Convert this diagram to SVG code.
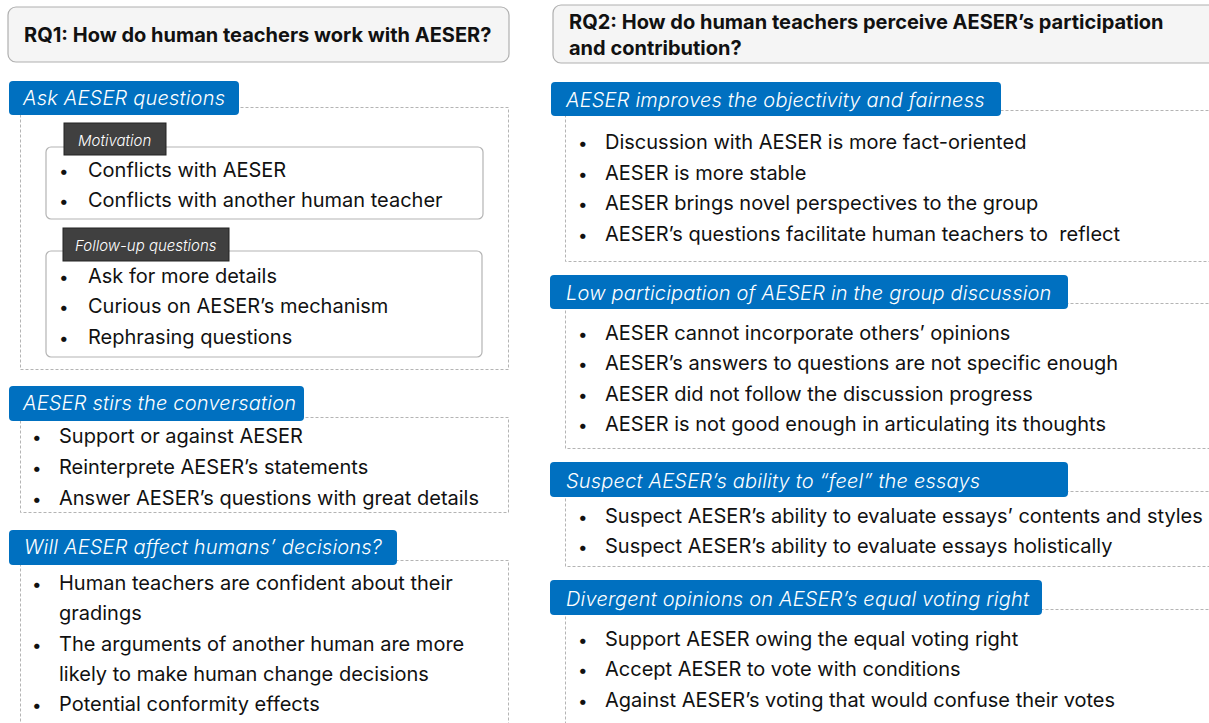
<svg xmlns="http://www.w3.org/2000/svg" width="1209" height="723" viewBox="0 0 1209 723">
<style>
.bg{fill:#ffffff}
.rq{fill:#f5f5f5;stroke:#b0b0b0;stroke-width:1.2}
.rqt{font-family:Inter,"Liberation Sans",sans-serif;font-weight:700;font-size:20px;fill:#111}
.dash{fill:none;stroke:#b4b4b4;stroke-width:1;stroke-dasharray:3 2}
.tab{fill:#0070c0}
.tabt{font-family:Inter,"Liberation Sans",sans-serif;font-style:italic;font-weight:300;font-size:20px;letter-spacing:0.2px;fill:#ffffff}
.dtab{fill:#404040;stroke:#222;stroke-width:1}
.dtabt{font-family:Inter,"Liberation Sans",sans-serif;font-style:italic;font-weight:300;font-size:15px;fill:#ffffff}
.inner{fill:#fff;stroke:#b4b4b4;stroke-width:1.2}
.b{font-family:Inter,"Liberation Sans",sans-serif;font-size:20px;fill:#111}
.d{font-family:Inter,"Liberation Sans",sans-serif;font-size:17px;fill:#111}
</style>
<rect class="bg" x="0" y="0" width="1209" height="723"/>
<g id="connectors"></g>

<g id="rq1">
<rect class="rq" x="8" y="7" width="501" height="55" rx="8"/>
<text class="rqt" x="24" y="42">RQ1: How do human teachers work with AESER?</text>
</g>

<g id="ask">
<rect class="dash" x="20.5" y="107.5" width="488" height="262"/>
<rect class="tab" x="9" y="81" width="230" height="34" rx="4"/>
<text class="tabt" x="23" y="105">Ask AESER questions</text>
</g>

<g id="motivation">
<rect class="inner" x="46" y="147" width="437" height="72" rx="5"/>
<rect class="dtab" x="64" y="123" width="102" height="32"/>
<text class="dtabt" x="78" y="146">Motivation</text>
<text class="d" x="59" y="177">•</text><text class="b" x="88" y="177">Conflicts with AESER</text>
<text class="d" x="59" y="207">•</text><text class="b" x="88" y="207">Conflicts with another human teacher</text>
</g>

<g id="followup">
<rect class="inner" x="46" y="251" width="436" height="106" rx="5"/>
<rect class="dtab" x="63" y="228" width="166" height="33"/>
<text class="dtabt" x="75" y="251">Follow-up questions</text>
<text class="d" x="59" y="283">•</text><text class="b" x="88" y="283">Ask for more details</text>
<text class="d" x="59" y="313">•</text><text class="b" x="88" y="313">Curious on AESER’s mechanism</text>
<text class="d" x="59" y="344">•</text><text class="b" x="88" y="344">Rephrasing questions</text>
</g>

<g id="stirs">
<rect class="dash" x="20.5" y="417.5" width="488" height="95"/>
<rect class="tab" x="9" y="386" width="295" height="35" rx="4"/>
<text class="tabt" x="23" y="410">AESER stirs the conversation</text>
<text class="d" x="32" y="443">•</text><text class="b" x="59" y="443">Support or against AESER</text>
<text class="d" x="32" y="474">•</text><text class="b" x="59" y="474">Reinterprete AESER’s statements</text>
<text class="d" x="32" y="505">•</text><text class="b" x="59" y="505">Answer AESER’s questions with great details</text>
</g>

<g id="affect">
<rect class="dash" x="20.5" y="560.5" width="488" height="180"/>
<rect class="tab" x="9" y="530" width="388" height="35" rx="4"/>
<text class="tabt" x="24" y="554">Will AESER affect humans’ decisions?</text>
<text class="d" x="32" y="590">•</text><text class="b" x="59" y="590">Human teachers are confident about their</text>
<text class="b" x="59" y="620">gradings</text>
<text class="d" x="32" y="651">•</text><text class="b" x="59" y="651">The arguments of another human are more</text>
<text class="b" x="59" y="681">likely to make human change decisions</text>
<text class="d" x="32" y="711">•</text><text class="b" x="59" y="711">Potential conformity effects</text>
</g>

<g id="rq2">
<rect class="rq" x="553" y="5" width="680" height="58" rx="8"/>
<text class="rqt" x="569" y="29">RQ2: How do human teachers perceive AESER’s participation</text>
<text class="rqt" x="569" y="55">and contribution?</text>
</g>

<g id="objectivity">
<rect class="dash" x="565.5" y="110.5" width="680" height="151"/>
<rect class="tab" x="551" y="82" width="450" height="34" rx="4"/>
<text class="tabt" x="566" y="107">AESER improves the objectivity and fairness</text>
<text class="d" x="578" y="149">•</text><text class="b" x="605" y="149">Discussion with AESER is more fact-oriented</text>
<text class="d" x="578" y="180">•</text><text class="b" x="605" y="180">AESER is more stable</text>
<text class="d" x="578" y="210">•</text><text class="b" x="605" y="210">AESER brings novel perspectives to the group</text>
<text class="d" x="578" y="241">•</text><text class="b" x="605" y="241">AESER’s questions facilitate human teachers to&#160; reflect</text>
</g>

<g id="participation">
<rect class="dash" x="565.5" y="303.5" width="680" height="145"/>
<rect class="tab" x="550" y="275" width="518" height="34" rx="4"/>
<text class="tabt" x="566" y="300">Low participation of AESER in the group discussion</text>
<text class="d" x="578" y="340">•</text><text class="b" x="605" y="340">AESER cannot incorporate others’ opinions</text>
<text class="d" x="578" y="370">•</text><text class="b" x="605" y="370">AESER’s answers to questions are not specific enough</text>
<text class="d" x="578" y="401">•</text><text class="b" x="605" y="401">AESER did not follow the discussion progress</text>
<text class="d" x="578" y="431">•</text><text class="b" x="605" y="431">AESER is not good enough in articulating its thoughts</text>
</g>

<g id="feel">
<rect class="dash" x="565.5" y="491.5" width="680" height="75"/>
<rect class="tab" x="550" y="462" width="518" height="35" rx="4"/>
<text class="tabt" x="566" y="488">Suspect AESER’s ability to “feel” the essays</text>
<text class="d" x="578" y="523">•</text><text class="b" x="605" y="523">Suspect AESER’s ability to evaluate essays’ contents and styles</text>
<text class="d" x="578" y="553">•</text><text class="b" x="605" y="553">Suspect AESER’s ability to evaluate essays holistically</text>
</g>

<g id="voting">
<rect class="dash" x="565.5" y="609.5" width="680" height="140"/>
<rect class="tab" x="550" y="580" width="492" height="35" rx="4"/>
<text class="tabt" x="566" y="606">Divergent opinions on AESER’s equal voting right</text>
<text class="d" x="578" y="646">•</text><text class="b" x="605" y="646">Support AESER owing the equal voting right</text>
<text class="d" x="578" y="676">•</text><text class="b" x="605" y="676">Accept AESER to vote with conditions</text>
<text class="d" x="578" y="707">•</text><text class="b" x="605" y="707">Against AESER’s voting that would confuse their votes</text>
</g>
</svg>
